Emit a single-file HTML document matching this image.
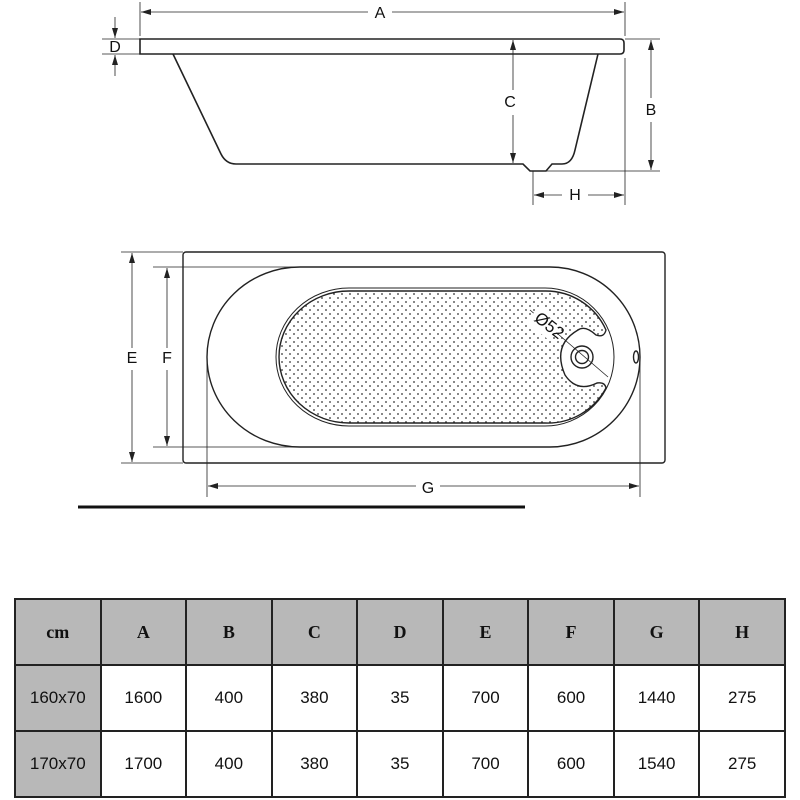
<!DOCTYPE html>
<html><head><meta charset="utf-8"><style>
body{margin:0;background:#fff;width:800px;height:800px;overflow:hidden;font-family:"Liberation Sans",sans-serif}
table{position:absolute;left:14px;top:598px;border-collapse:collapse;width:772px;table-layout:fixed}
td{border:2.5px solid #222;height:64px;text-align:center;font-size:17px;color:#111;padding:0}
tr.h td{background:#b8b8b8;font-family:"Liberation Serif",serif;font-weight:bold;font-size:18px}
td.g{background:#b8b8b8}
</style></head><body>
<svg width="800" height="800" style="position:absolute;left:0;top:0">
<defs>
<pattern id="dots" width="8" height="8" patternUnits="userSpaceOnUse">
<circle cx="2" cy="2" r="0.9" fill="#333"/><circle cx="6" cy="6" r="0.9" fill="#333"/>
</pattern>
<marker id="ar" viewBox="0 0 10 6" refX="10" refY="3" markerWidth="10" markerHeight="6" orient="auto-start-reverse" markerUnits="userSpaceOnUse"><path d="M0,0L10,3L0,6z" fill="#222"/></marker>
</defs>
<g stroke="#222" fill="none" stroke-width="0.8">
<line x1="140" y1="2" x2="140" y2="36"/><line x1="625" y1="2" x2="625" y2="36"/>
<line x1="625" y1="58" x2="625" y2="205"/>
<line x1="102" y1="39" x2="140" y2="39"/><line x1="102" y1="54" x2="140" y2="54"/>
<line x1="625" y1="39" x2="660" y2="39"/><line x1="540" y1="171" x2="660" y2="171"/>
<line x1="533" y1="171" x2="533" y2="205"/>
<line x1="141" y1="12" x2="368" y2="12" marker-start="url(#ar)"/><line x1="392" y1="12" x2="624" y2="12" marker-end="url(#ar)"/>
<line x1="115" y1="17" x2="115" y2="38" marker-end="url(#ar)"/><line x1="115" y1="76" x2="115" y2="55" marker-end="url(#ar)"/>
<line x1="513" y1="40" x2="513" y2="90" marker-start="url(#ar)"/><line x1="513" y1="115" x2="513" y2="163" marker-end="url(#ar)"/>
<line x1="651" y1="40" x2="651" y2="98" marker-start="url(#ar)"/><line x1="651" y1="122" x2="651" y2="170" marker-end="url(#ar)"/>
<line x1="534" y1="195" x2="562" y2="195" marker-start="url(#ar)"/><line x1="588" y1="195" x2="624" y2="195" marker-end="url(#ar)"/>
</g>
<g stroke="#222" fill="none" stroke-width="1.6">
<path d="M140,39H620Q624,39 624,43V50Q624,54 620,54H140Z"/>
<path d="M173,54L221,154Q226,164 236,164H523L530,171H546L552,164H562Q572,164 575,150L598,54"/>
</g>
<g font-size="16" fill="#111" text-anchor="middle">
<text x="380" y="18">A</text><text x="115" y="52">D</text><text x="510" y="107">C</text><text x="651" y="115">B</text><text x="575" y="200">H</text>
<text x="132" y="363">E</text><text x="167" y="363">F</text><text x="428" y="493">G</text>
</g>
<g stroke="#222" fill="none" stroke-width="0.8">
<line x1="121" y1="252" x2="183" y2="252"/><line x1="121" y1="463" x2="183" y2="463"/>
<line x1="153" y1="267" x2="300" y2="267"/><line x1="153" y1="447" x2="300" y2="447"/>
<line x1="207" y1="357" x2="207" y2="497"/><line x1="640" y1="357" x2="640" y2="497"/>
<line x1="132" y1="253" x2="132" y2="348" marker-start="url(#ar)"/><line x1="132" y1="370" x2="132" y2="462" marker-end="url(#ar)"/>
<line x1="167" y1="268" x2="167" y2="348" marker-start="url(#ar)"/><line x1="167" y1="370" x2="167" y2="446" marker-end="url(#ar)"/>
<line x1="208" y1="486" x2="416" y2="486" marker-start="url(#ar)"/><line x1="440" y1="486" x2="639" y2="486" marker-end="url(#ar)"/>
<line x1="530" y1="310" x2="608" y2="377"/>
</g>
<g stroke="#222" fill="none" stroke-width="1.4">
<rect x="183" y="252" width="482" height="211" rx="3"/>
<path d="M300,267H550A90,90 0 0 1 550,447H300A93,90 0 0 1 300,267Z"/>
<path d="M349,291H545A66,66 0 0 1 606,330Q604,338 596,335Q585,325 578,330Q552,345 565,375Q577,393 597,383Q605,382 606,388A66,66 0 0 1 545,423H349A70,66 0 0 1 349,291Z" fill="url(#dots)"/>
<path d="M349,288H545A69,69 0 0 1 545,426H349A73,69 0 0 1 349,288Z" stroke-width="1"/>
<circle cx="582" cy="357" r="11"/><circle cx="582" cy="357" r="6.5"/>
<ellipse cx="636" cy="357" rx="2.5" ry="6"/>
</g>
<rect x="530" y="312" width="30" height="22" fill="#fff" transform="rotate(38 545 323)"/>
<text x="549" y="331" font-size="17" fill="#111" text-anchor="middle" transform="rotate(38 549 326)">Ø52</text>
<line x1="78" y1="507" x2="525" y2="507" stroke="#111" stroke-width="3"/>
</svg>
<table>
<tr class="h"><td>cm</td><td>A</td><td>B</td><td>C</td><td>D</td><td>E</td><td>F</td><td>G</td><td>H</td></tr>
<tr><td class="g">160x70</td><td>1600</td><td>400</td><td>380</td><td>35</td><td>700</td><td>600</td><td>1440</td><td>275</td></tr>
<tr><td class="g">170x70</td><td>1700</td><td>400</td><td>380</td><td>35</td><td>700</td><td>600</td><td>1540</td><td>275</td></tr>
</table>
</body></html>
